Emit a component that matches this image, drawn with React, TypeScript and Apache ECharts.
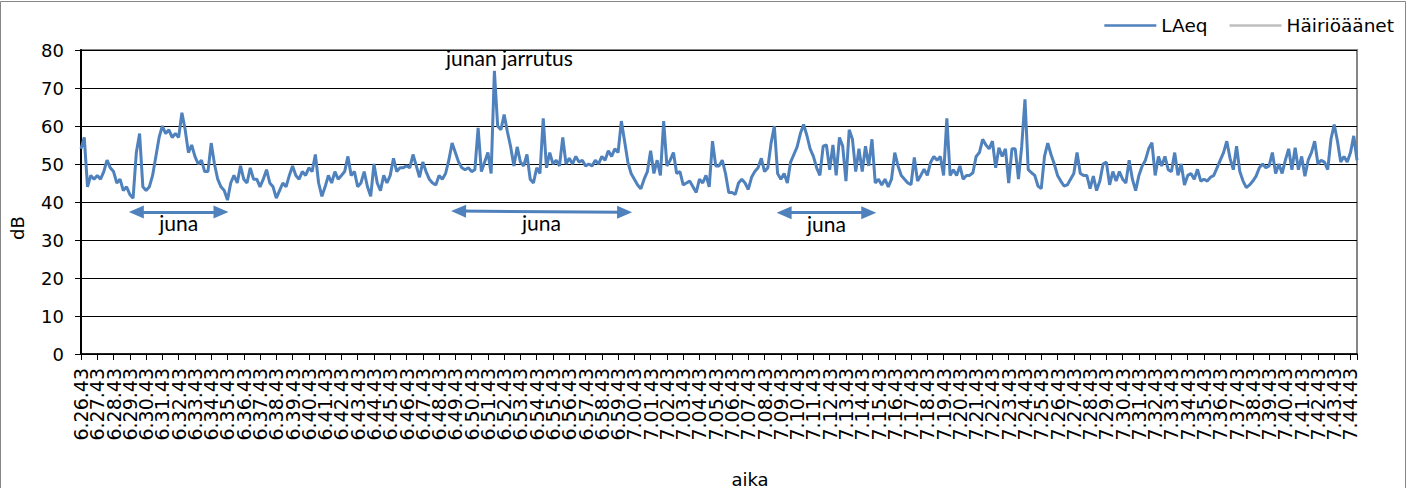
import React, { useEffect, useRef } from 'react';
import * as echarts from 'echarts';

// Time axis: samples every 12 s starting at 6.26.43; a tick label every minute
const START_TIME = { h: 6, m: 26, s: 43 };
const STEP_SECONDS = 12;
const SAMPLES_PER_TICK = 5;

// LAeq (dB), one value per 12 s
const laeqValues: number[] = [
  // 6.26.43 – 6.46.07
  54, 57, 44, 47, 46, 47, 46, 48, 51, 49,
  48, 45, 46, 43, 44, 42, 41, 53, 58, 44,
  43, 44, 47, 52, 57, 60, 58, 59, 57, 58,
  57, 63.5, 59, 53, 55, 52, 50, 51, 48, 48,
  55.5, 50, 46, 44, 43, 40.5, 45, 47, 45, 49.5,
  46, 45, 49, 46, 46, 44, 46, 48.5, 45, 44,
  41, 43, 45, 44, 47, 49.5, 47, 46, 48, 47,
  49, 48, 52.5, 45, 41.5, 44, 47, 45, 48, 46,
  47, 48, 52, 47, 48, 44, 45, 48, 44, 41.5,
  50, 45, 43, 47, 45, 47, 51.5, 48,
  // 6.46.19 – 7.05.43
  49, 49, 49.5, 49, 52.5, 49.5, 46.5, 50.5, 48, 46,
  45, 44.5, 47, 46, 47.5, 51, 55.5, 53, 50.5, 49,
  48.5, 49, 48, 48.5, 59.5, 48, 50.5, 53, 47.5, 74.5,
  60, 59, 63, 58.5, 54.5, 49.5, 54.5, 50.5, 49.5, 52.5,
  46, 45, 49, 47.5, 62, 49, 53, 50, 51, 49.5,
  57, 50, 51.5, 50, 52, 50.5, 51, 49.5, 50, 49.5,
  51, 50, 52, 51, 53.5, 52, 54, 53, 61.3, 56,
  50.5, 47.5, 46, 44.5, 43.5, 46, 48, 53.5, 47.5, 51,
  47, 61.3, 49.5, 51, 53, 47.5, 48, 44.5, 45, 45.5,
  44, 42.5, 46, 45, 47, 44, 56, 49.5,
  // 7.05.55 – 7.25.31
  49.5, 51, 47.5, 42.5, 42.5, 42, 45, 46, 45, 43.3,
  46.5, 48, 49, 51.5, 48, 49, 55.5, 60, 47.5, 46,
  47.5, 45, 50.5, 52.5, 54.5, 58, 60.4, 57.5, 54, 52,
  49, 47, 54.7, 55, 48.5, 55, 47, 57, 54.7, 45.5,
  59, 56.5, 48, 54, 48, 54.7, 49.5, 56.5, 45, 46,
  44.5, 46, 44, 46, 53, 49.5, 47, 46, 45, 44.6,
  51.7, 45.5, 47, 48.6, 47, 50.4, 52, 51, 52, 47,
  62, 47, 48.5, 47, 49.5, 46, 47, 47, 47.7, 52,
  53, 56.5, 55, 54, 56, 49, 54.3, 52, 54, 45,
  54, 54, 46, 54.7, 67, 48.5, 47.7, 47, 44.2,
  // 7.25.43 – 7.45.07
  43.5, 52, 55.5, 52.5, 50, 47, 45.5, 44.2, 44.5, 46,
  47.5, 53, 47.5, 47, 47, 43.5, 46.8, 43, 45.5, 50,
  50.5, 44.5, 48, 45.5, 48, 46, 45, 51, 46, 43,
  47, 49.5, 51, 54, 55.6, 47, 52, 49.5, 52, 48.5,
  48, 53, 47, 50, 44.5, 47, 47.5, 46, 48.6, 45.5,
  46, 45.5, 46.5, 47, 49, 51, 53, 56, 51.5, 48.5,
  54.7, 48, 45.5, 43.8, 44.5, 45.5, 46.8, 49, 50, 49,
  49.5, 53, 47.5, 50, 47.5, 51, 54, 48.5, 54.3, 48.5,
  52, 46.8, 51, 53, 56, 50, 51, 50.5, 48.5, 56.5,
  60.4, 56, 50.5, 52, 50.5, 53, 57.4, 51,
];

// Second legend series (no samples shown in the chart)
const hairioValues: (number | null)[] = [];

// Train passages: [start sample, end sample, level dB at start, level dB at end]
const trainStart = [17, 116, 216];
const trainEnd = [43, 167, 242];
const trainLevelStart = [37.4, 37.6, 37.2];
const trainLevelEnd = [37.4, 37.3, 37.2];
const trainLabel = 'juna';

// Braking annotation
const brakeIndex = 127;
const brakeLabel = 'junan jarrutus';

const pad = (n: number) => (n < 10 ? '0' + n : '' + n);
const categories: string[] = laeqValues.map((_, i) => {
  const t = START_TIME.h * 3600 + START_TIME.m * 60 + START_TIME.s + i * STEP_SECONDS;
  const h = Math.floor(t / 3600);
  const m = Math.floor((t % 3600) / 60);
  const s = t % 60;
  return `${h}.${pad(m)}.${pad(s)}`;
});

const BLUE = '#4F81BD';
const GREY = '#BFBFBF';
const FONT = 'DejaVu Sans';
const NOTE_FONT = 'Lato';

export default function App() {
  const ref = useRef<HTMLDivElement>(null);
  useEffect(() => {
    if (!ref.current) return;
    const chart = echarts.init(ref.current, undefined, { renderer: 'svg' });
    chart.setOption({
      animation: false,
      backgroundColor: '#ffffff',
      graphic: [
        {
          type: 'rect',
          silent: true,
          shape: { x: 0.5, y: 1.5, width: 1405, height: 600 },
          style: { fill: 'none', stroke: '#868686', lineWidth: 1 },
        },
      ],
      legend: {
        right: 9,
        top: 11,
        icon: 'rect',
        itemWidth: 52,
        itemHeight: 2.5,
        itemGap: 22,
        textStyle: { fontFamily: FONT, fontSize: 18.5, color: '#000' },
        data: ['LAeq', 'Häiriöäänet'],
      },
      grid: {
        left: 81,
        right: 51,
        top: 50,
        bottom: 134,
        show: true,
        borderColor: '#868686',
        borderWidth: 2,
        containLabel: false,
        outerBoundsMode: 'none',
      },
      xAxis: {
        type: 'category',
        data: categories,
        boundaryGap: false,
        name: 'aika',
        nameLocation: 'middle',
        nameGap: 116,
        nameTextStyle: { fontFamily: FONT, fontSize: 18, color: '#000', padding: [0, 0, 0, 62] },
        axisLine: { show: true, lineStyle: { color: '#000', width: 1.5 } },
        axisTick: { show: true, interval: SAMPLES_PER_TICK - 1, length: 6, lineStyle: { color: '#000' } },
        axisLabel: {
          interval: 0,
          formatter: (value: string, index: number) =>
            index % SAMPLES_PER_TICK === 0 ? value : '',
          rotate: 90,
          margin: 14,
          fontFamily: FONT,
          fontSize: 19,
          lineHeight: 14,
          color: '#000',
        },
        splitLine: { show: false },
      },
      yAxis: {
        type: 'value',
        min: 0,
        max: 80,
        interval: 10,
        name: 'dB',
        nameLocation: 'middle',
        nameRotate: 90,
        nameGap: 55,
        nameTextStyle: { fontFamily: FONT, fontSize: 18, color: '#000', padding: [0, 52, 0, 0] },
        axisLine: { show: true, lineStyle: { color: '#000', width: 2 } },
        axisTick: { show: true, length: 6, lineStyle: { color: '#000' } },
        axisLabel: { margin: 17, fontFamily: FONT, fontSize: 18, color: '#000' },
        splitLine: { show: true, lineStyle: { color: '#000', width: 1 } },
      },
      series: [
        {
          name: 'LAeq',
          type: 'line',
          data: laeqValues,
          symbol: 'none',
          showSymbol: false,
          color: BLUE,
          lineStyle: { color: BLUE, width: 3 },
          z: 3,
          markLine: {
            silent: true,
            symbol: ['triangle', 'triangle'],
            symbolSize: [13, 15],
            lineStyle: { color: BLUE, width: 3, type: 'solid' },
            label: {
              show: true,
              position: 'insideMiddleBottom',
              distance: 0,
              formatter: trainLabel,
              fontFamily: NOTE_FONT,
              fontSize: 21,
              color: '#000',
            },
            data: trainStart.map((s, i) => [
              { coord: [s, trainLevelStart[i]] },
              { coord: [trainEnd[i], trainLevelEnd[i]] },
            ]),
          },
          markPoint: {
            silent: true,
            symbol: 'circle',
            symbolSize: 0,
            label: {
              show: true,
              position: 'inside',
              offset: [15, -13],
              formatter: brakeLabel,
              fontFamily: NOTE_FONT,
              fontSize: 21,
              color: '#000',
            },
            data: [{ coord: [brakeIndex, laeqValues[brakeIndex]] }],
          },
        },
        {
          name: 'Häiriöäänet',
          type: 'line',
          data: hairioValues,
          symbol: 'none',
          showSymbol: false,
          color: GREY,
          lineStyle: { color: GREY, width: 2.5 },
        },
      ],
    });
    return () => chart.dispose();
  }, []);
  return (
    <div
      ref={ref}
      style={{ position: 'absolute', left: 0, top: 0, width: 1408, height: 488 }}
    />
  );
}
